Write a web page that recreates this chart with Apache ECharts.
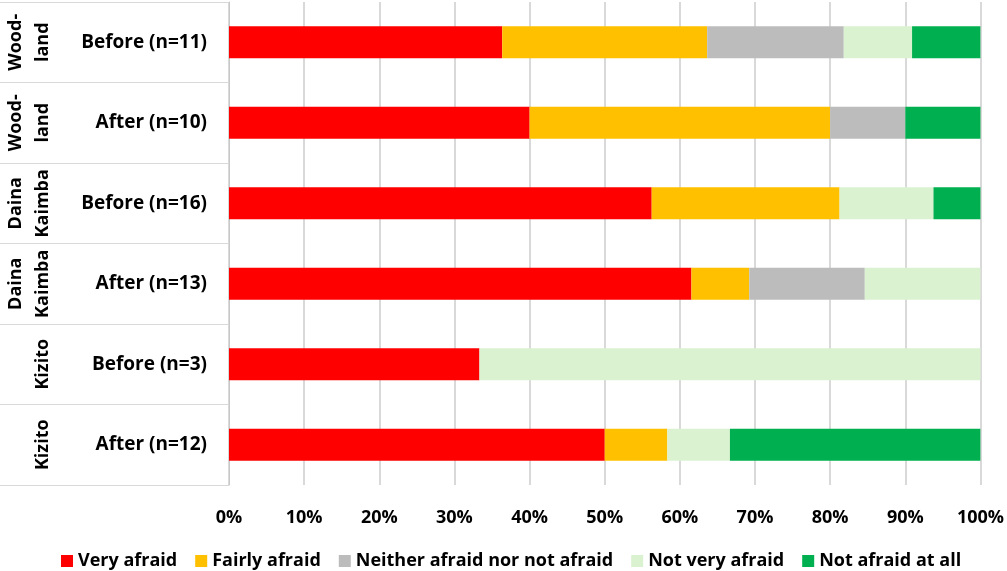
<!DOCTYPE html>
<html>
<head>
<meta charset="utf-8">
<script src="https://cdn.jsdelivr.net/npm/echarts@6/dist/echarts.min.js"></script>
<style>
  html, body { margin: 0; padding: 0; background: #fff; }
  #main { width: 1007px; height: 571px; }
</style>
</head>
<body>
<!-- chart container -->
<div id="main"></div>
<script>
var categories = ['Before (n=11)', 'After (n=10)', 'Before (n=16)', 'After (n=13)', 'Before (n=3)', 'After (n=12)']
var groupLabels = ['Wood-\nland', 'Wood-\nland', 'Daina\nKaimba', 'Daina\nKaimba', '\nKizito', '\nKizito']

// percent of respondents in each answer
var veryAfraid = [36.36, 40, 56.25, 61.54, 33.33, 50]
var fairlyAfraid = [27.27, 40, 25, 7.69, 0, 8.33]
var neitherAfraid = [18.18, 10, 0, 15.38, 0, 0]
var notVeryAfraid = [9.09, 0, 12.5, 15.38, 66.67, 8.33]
var notAfraidAtAll = [9.09, 10, 6.25, 0, 0, 33.33]

var seriesNames = ['Very afraid', 'Fairly afraid', 'Neither afraid nor not afraid', 'Not very afraid', 'Not afraid at all']
var seriesColors = ['#ff0000', '#ffc000', '#bcbcbc', '#daf2d0', '#00b050']
var seriesData = [veryAfraid, fairlyAfraid, neitherAfraid, notVeryAfraid, notAfraidAtAll]

var font = 'Open Sans'
var myChart = echarts.init(document.getElementById('main'))
var option = {
  animation: false,
  textStyle: { fontFamily: font },
  grid: { left: 229, right: 25, top: 2, bottom: 86 },
  legend: {
    data: seriesNames,
    left: 61,
    top: 552,
    padding: 0,
    icon: 'rect',
    itemWidth: 12,
    itemHeight: 12,
    itemGap: 18,
    textStyle: { fontFamily: font, fontSize: 18, fontWeight: 'bold', color: '#000' }
  },
  xAxis: {
    type: 'value',
    min: 0,
    max: 100,
    interval: 10,
    axisLine: { show: false },
    axisTick: { show: false },
    splitLine: { lineStyle: { color: '#d9d9d9', width: 2 } },
    axisLabel: {
      formatter: '{value}%',
      margin: 24,
      fontFamily: font,
      fontSize: 18,
      fontWeight: 'bold',
      color: '#000'
    }
  },
  yAxis: [
    {
      type: 'category',
      data: categories,
      inverse: true,
      axisLine: { show: true, lineStyle: { color: '#c8c8c8', width: 1 } },
      axisTick: { show: true, interval: 0, length: 229, lineStyle: { color: '#d9d9d9', width: 1 } },
      axisLabel: {
        interval: 0,
        margin: 22,
        fontFamily: font,
        fontSize: 19,
        fontWeight: 'bold',
        color: '#000'
      }
    },
    {
      // group names, turned on their side
      type: 'category',
      data: groupLabels,
      inverse: true,
      position: 'left',
      offset: 170,
      axisLine: { show: false },
      axisTick: { show: false },
      axisLabel: {
        interval: 0,
        rotate: 90,
        margin: 3,
        lineHeight: 27,
        fontFamily: font,
        fontSize: 18,
        fontWeight: 'bold',
        color: '#000'
      }
    }
  ],
  series: seriesNames.map(function (name, i) {
    return {
      name: name,
      type: 'bar',
      stack: 'total',
      barWidth: 32,
      itemStyle: { color: seriesColors[i] },
      data: seriesData[i]
    }
  })
}
myChart.setOption(option)
</script>
</body>
</html>
